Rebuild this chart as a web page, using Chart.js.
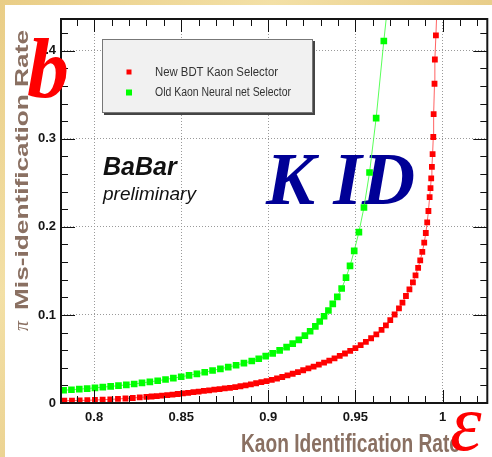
<!DOCTYPE html>
<html>
<head>
<meta charset="utf-8">
<script src="https://cdn.jsdelivr.net/npm/chart.js@4/dist/chart.umd.min.js"></script>
<style>
  html, body { margin: 0; padding: 0; background: #fff; }
  #c { display: block; }
</style>
</head>
<body>
<canvas id="c" width="492" height="457"></canvas>
<script>
// series labels
var seriesLabels = ['New BDT Kaon Selector', 'Old Kaon Neural net Selector'];

// New BDT selector: kaon efficiency vs pion mis-id
var bdtEff = [0.7829, 0.7873, 0.7917, 0.7961, 0.8005, 0.8049, 0.8093, 0.8137, 0.818, 0.8222,
  0.8262, 0.830, 0.833, 0.836, 0.839, 0.842, 0.845, 0.848, 0.851, 0.854,
  0.857, 0.860, 0.863, 0.866, 0.869, 0.872, 0.875, 0.878, 0.881, 0.884,
  0.887, 0.890, 0.893, 0.896, 0.899, 0.902, 0.905, 0.908, 0.911, 0.914,
  0.917, 0.920, 0.923, 0.926, 0.929, 0.932, 0.935, 0.938, 0.941, 0.944,
  0.947, 0.950, 0.953, 0.956, 0.959, 0.962, 0.965, 0.9675, 0.970, 0.9725,
  0.975, 0.977, 0.979, 0.981, 0.983, 0.9845, 0.986, 0.9872, 0.9884, 0.9895,
  0.9904, 0.9912, 0.9919, 0.9926, 0.9931, 0.9935, 0.9939, 0.9943, 0.9947, 0.9949,
  0.9954, 0.9956, 0.9962, 0.9970];
var bdtMis = [0.0026, 0.0027, 0.0029, 0.0031, 0.0034, 0.0037, 0.0041, 0.0046, 0.0051, 0.0057,
  0.0063, 0.0069, 0.0074, 0.0079, 0.0084, 0.0090, 0.0096, 0.0102, 0.0109, 0.0116,
  0.0123, 0.0130, 0.0137, 0.0144, 0.0151, 0.0158, 0.0165, 0.0172, 0.0180, 0.0190,
  0.0201, 0.0212, 0.0224, 0.0236, 0.0248, 0.0262, 0.0278, 0.0295, 0.0313, 0.0332,
  0.0351, 0.0372, 0.0392, 0.0413, 0.0435, 0.0458, 0.0482, 0.0507, 0.0534, 0.0562,
  0.0592, 0.0624, 0.0658, 0.0695, 0.0735, 0.0780, 0.0830, 0.0882, 0.0940, 0.1005,
  0.1075, 0.1140, 0.1215, 0.1290, 0.1370, 0.1450, 0.1535, 0.1620, 0.1715, 0.1820,
  0.1930, 0.2050, 0.2180, 0.2337, 0.2440, 0.2550, 0.2680, 0.2826, 0.3020, 0.3280,
  0.3625, 0.3900, 0.4174, 0.4600];

// Old neural net selector
var nnEff = [0.7825, 0.787, 0.7915, 0.796, 0.8005, 0.805, 0.8095, 0.814, 0.8185, 0.823,
  0.8275, 0.832, 0.8365, 0.841, 0.8455, 0.850, 0.8545, 0.859, 0.8635, 0.868,
  0.8725, 0.877, 0.8815, 0.886, 0.8905, 0.8945, 0.8985, 0.9025, 0.9065, 0.9105,
  0.914, 0.9175, 0.921, 0.924, 0.927, 0.9295, 0.932, 0.9345, 0.937, 0.9396,
  0.9421, 0.9446, 0.9469, 0.9493, 0.952, 0.9549, 0.9581, 0.9619, 0.9663, 0.9695];
var nnMis = [0.0145, 0.0151, 0.0157, 0.0164, 0.0172, 0.0180, 0.0188, 0.0197, 0.0206, 0.0216,
  0.0228, 0.0240, 0.0253, 0.0267, 0.0282, 0.0298, 0.0314, 0.0331, 0.0349, 0.0369,
  0.0388, 0.0408, 0.0429, 0.0452, 0.0477, 0.0503, 0.0532, 0.0563, 0.0597, 0.0635,
  0.0674, 0.0717, 0.0765, 0.0815, 0.0870, 0.0925, 0.0985, 0.1050, 0.1125, 0.1205,
  0.1300, 0.1424, 0.1557, 0.1727, 0.1940, 0.2220, 0.2617, 0.3235, 0.4110, 0.4700];

// axes
var xTicks = [0.8, 0.85, 0.9, 0.95, 1];
var yTicks = [0, 0.1, 0.2, 0.3, 0.4];
var xMinorStep = 0.01;
var yMinorStep = 0.02;
var xRange = [0.781, 1.0257];
var yRange = [0, 0.436];

function toPoints(xs, ys) {
  return xs.map(function (x, i) { return { x: x, y: ys[i] }; });
}

function fitText(ctx, text, x, y, width) {
  var w = ctx.measureText(text).width;
  ctx.save();
  ctx.translate(x, y);
  ctx.scale(width / w, 1);
  ctx.fillText(text, 0, 0);
  ctx.restore();
}

var decor = {
  id: 'decor',
  beforeDraw: function (chart) {
    var ctx = chart.ctx;
    ctx.save();
    var g = ctx.createLinearGradient(0, 0, 492, 457);
    g.addColorStop(0, '#e9cd86');
    g.addColorStop(0.3, '#f3e0a6');
    g.addColorStop(0.6, '#e6c983');
    g.addColorStop(1, '#f1dca0');
    ctx.fillStyle = g;
    ctx.fillRect(0, 0, 492, 457);
    ctx.fillStyle = '#ffffff';
    ctx.fillRect(5, 5, 487, 452);
    ctx.restore();
  },
  beforeDatasetsDraw: function (chart) {
    var ctx = chart.ctx;
    ctx.save();
    // BaBar preliminary
    ctx.fillStyle = '#111';
    ctx.textBaseline = 'alphabetic';
    ctx.font = 'italic bold 25px "Liberation Sans", Arial, sans-serif';
    ctx.fillText('BaBar', 103, 175);
    ctx.font = 'italic 19px "Liberation Sans", Arial, sans-serif';
    ctx.fillText('preliminary', 103, 200);
    // K ID
    ctx.fillStyle = '#000096';
    ctx.font = 'italic bold 74px "Liberation Serif", "Times New Roman", serif';
    fitText(ctx, 'K ID', 266, 204, 149);
    ctx.restore();
  },
  afterDraw: function (chart) {
    var ctx = chart.ctx;
    var a = chart.chartArea;
    var xs = chart.scales.x, ys = chart.scales.y;
    ctx.save();

    // inward ticks on all four sides
    ctx.strokeStyle = '#111';
    ctx.lineWidth = 1;
    ctx.beginPath();
    var i, v, p, len;
    for (i = 0; ; i++) {
      v = Math.round((0.78 + i * xMinorStep) * 1000) / 1000;
      if (v > xRange[1]) break;
      if (v < xRange[0]) continue;
      p = Math.round(xs.getPixelForValue(v)) + 0.5;
      len = xTicks.indexOf(v) >= 0 ? 13 : 7;
      ctx.moveTo(p, a.bottom); ctx.lineTo(p, a.bottom - len);
      ctx.moveTo(p, a.top); ctx.lineTo(p, a.top + len);
    }
    for (i = 0; ; i++) {
      v = Math.round(i * yMinorStep * 1000) / 1000;
      if (v > yRange[1]) break;
      p = Math.round(ys.getPixelForValue(v)) + 0.5;
      len = yTicks.indexOf(v) >= 0 ? 14 : 7;
      ctx.moveTo(a.left, p); ctx.lineTo(a.left + len, p);
      ctx.moveTo(a.right, p); ctx.lineTo(a.right - len, p);
    }
    ctx.stroke();

    // frame
    ctx.lineWidth = 2;
    ctx.strokeStyle = '#151515';
    ctx.strokeRect(a.left, a.top, a.right - a.left, a.bottom - a.top);

    // legend box
    var lx = 102, ly = 39, lw = 211, lh = 74;
    ctx.fillStyle = '#444';
    ctx.fillRect(lx + 2, ly + 2, lw, lh);
    ctx.fillStyle = '#f1f1f1';
    ctx.fillRect(lx, ly, lw, lh);
    ctx.lineWidth = 1;
    ctx.strokeStyle = '#777';
    ctx.strokeRect(lx + 0.5, ly + 0.5, lw - 1, lh - 1);
    var rows = [{ y: 72, s: 5, w: 123 }, { y: 92.5, s: 6, w: 136 }];
    ctx.font = '12px "Liberation Sans", Arial, sans-serif';
    ctx.textBaseline = 'middle';
    chart.data.datasets.forEach(function (ds, k) {
      var r = rows[k];
      ctx.fillStyle = ds.pointBackgroundColor;
      ctx.fillRect(129 - r.s / 2, r.y - r.s / 2, r.s, r.s);
      ctx.fillStyle = '#333';
      fitText(ctx, ds.label, 155, r.y + 0.5, r.w);
    });

    // axis titles
    ctx.fillStyle = '#8a7062';
    ctx.textBaseline = 'alphabetic';
    ctx.font = 'bold 26px "Liberation Sans", Arial, sans-serif';
    fitText(ctx, 'Kaon Identification Rate', 241, 452, 219);
    ctx.save();
    ctx.translate(28, 310);
    ctx.rotate(-Math.PI / 2);
    ctx.font = 'bold 19px "Liberation Sans", Arial, sans-serif';
    fitText(ctx, 'Mis-identification Rate', 0, 0, 280);
    ctx.restore();
    ctx.save();
    ctx.translate(28, 331);
    ctx.rotate(-Math.PI / 2);
    ctx.font = 'italic 20px "Liberation Serif", serif';
    ctx.fillText('\u03c0', 0, 0);
    ctx.restore();

    // big red letters
    ctx.fillStyle = '#ff0000';
    ctx.font = 'italic bold 84px "Liberation Serif", "Times New Roman", serif';
    ctx.fillText('b', 27, 97);
    ctx.font = 'italic 80px "Liberation Serif", "Times New Roman", serif';
    ctx.fillText('\u03b5', 450, 450);
    ctx.restore();
  }
};

var ctx = document.getElementById('c').getContext('2d');
new Chart(ctx, {
  type: 'scatter',
  data: {
    datasets: [{
      label: seriesLabels[0],
      data: toPoints(bdtEff, bdtMis),
      showLine: true,
      borderColor: 'rgba(255,70,70,0.85)',
      borderWidth: 1,
      pointStyle: 'rect',
      pointRadius: 4.1,
      pointBorderWidth: 0,
      pointBackgroundColor: '#ff0000'
    }, {
      label: seriesLabels[1],
      data: toPoints(nnEff, nnMis),
      showLine: true,
      borderColor: 'rgba(60,255,60,0.85)',
      borderWidth: 1,
      pointStyle: 'rect',
      pointRadius: 4.7,
      pointBorderWidth: 0,
      pointBackgroundColor: '#00ff00'
    }]
  },
  options: {
    responsive: false,
    animation: false,
    events: [],
    layout: { padding: { top: 19, right: 3, left: 0, bottom: 0 } },
    plugins: { legend: { display: false }, tooltip: { enabled: false } },
    scales: {
      x: {
        type: 'linear',
        min: xRange[0],
        max: xRange[1],
        afterBuildTicks: function (s) { s.ticks = xTicks.map(function (v) { return { value: v }; }); },
        afterFit: function (s) { s.height = 54; },
        ticks: {
          padding: 7,
          color: '#151515',
          font: { family: '"Liberation Sans", Arial, sans-serif', size: 13, weight: 'bold' },
          maxRotation: 0,
          callback: function (v) { return String(v); }
        },
        grid: { color: '#9a9a9a', lineWidth: 1, drawTicks: false },
        border: { display: false, dash: [1, 2] }
      },
      y: {
        type: 'linear',
        min: yRange[0],
        max: yRange[1],
        afterBuildTicks: function (s) { s.ticks = yTicks.map(function (v) { return { value: v }; }); },
        afterFit: function (s) { s.width = 61; },
        ticks: {
          padding: 5,
          color: '#151515',
          font: { family: '"Liberation Sans", Arial, sans-serif', size: 13, weight: 'bold' },
          callback: function (v) { return String(v); }
        },
        grid: { color: '#9a9a9a', lineWidth: 1, drawTicks: false },
        border: { display: false, dash: [1, 2] }
      }
    }
  },
  plugins: [decor]
});
</script>
</body>
</html>
